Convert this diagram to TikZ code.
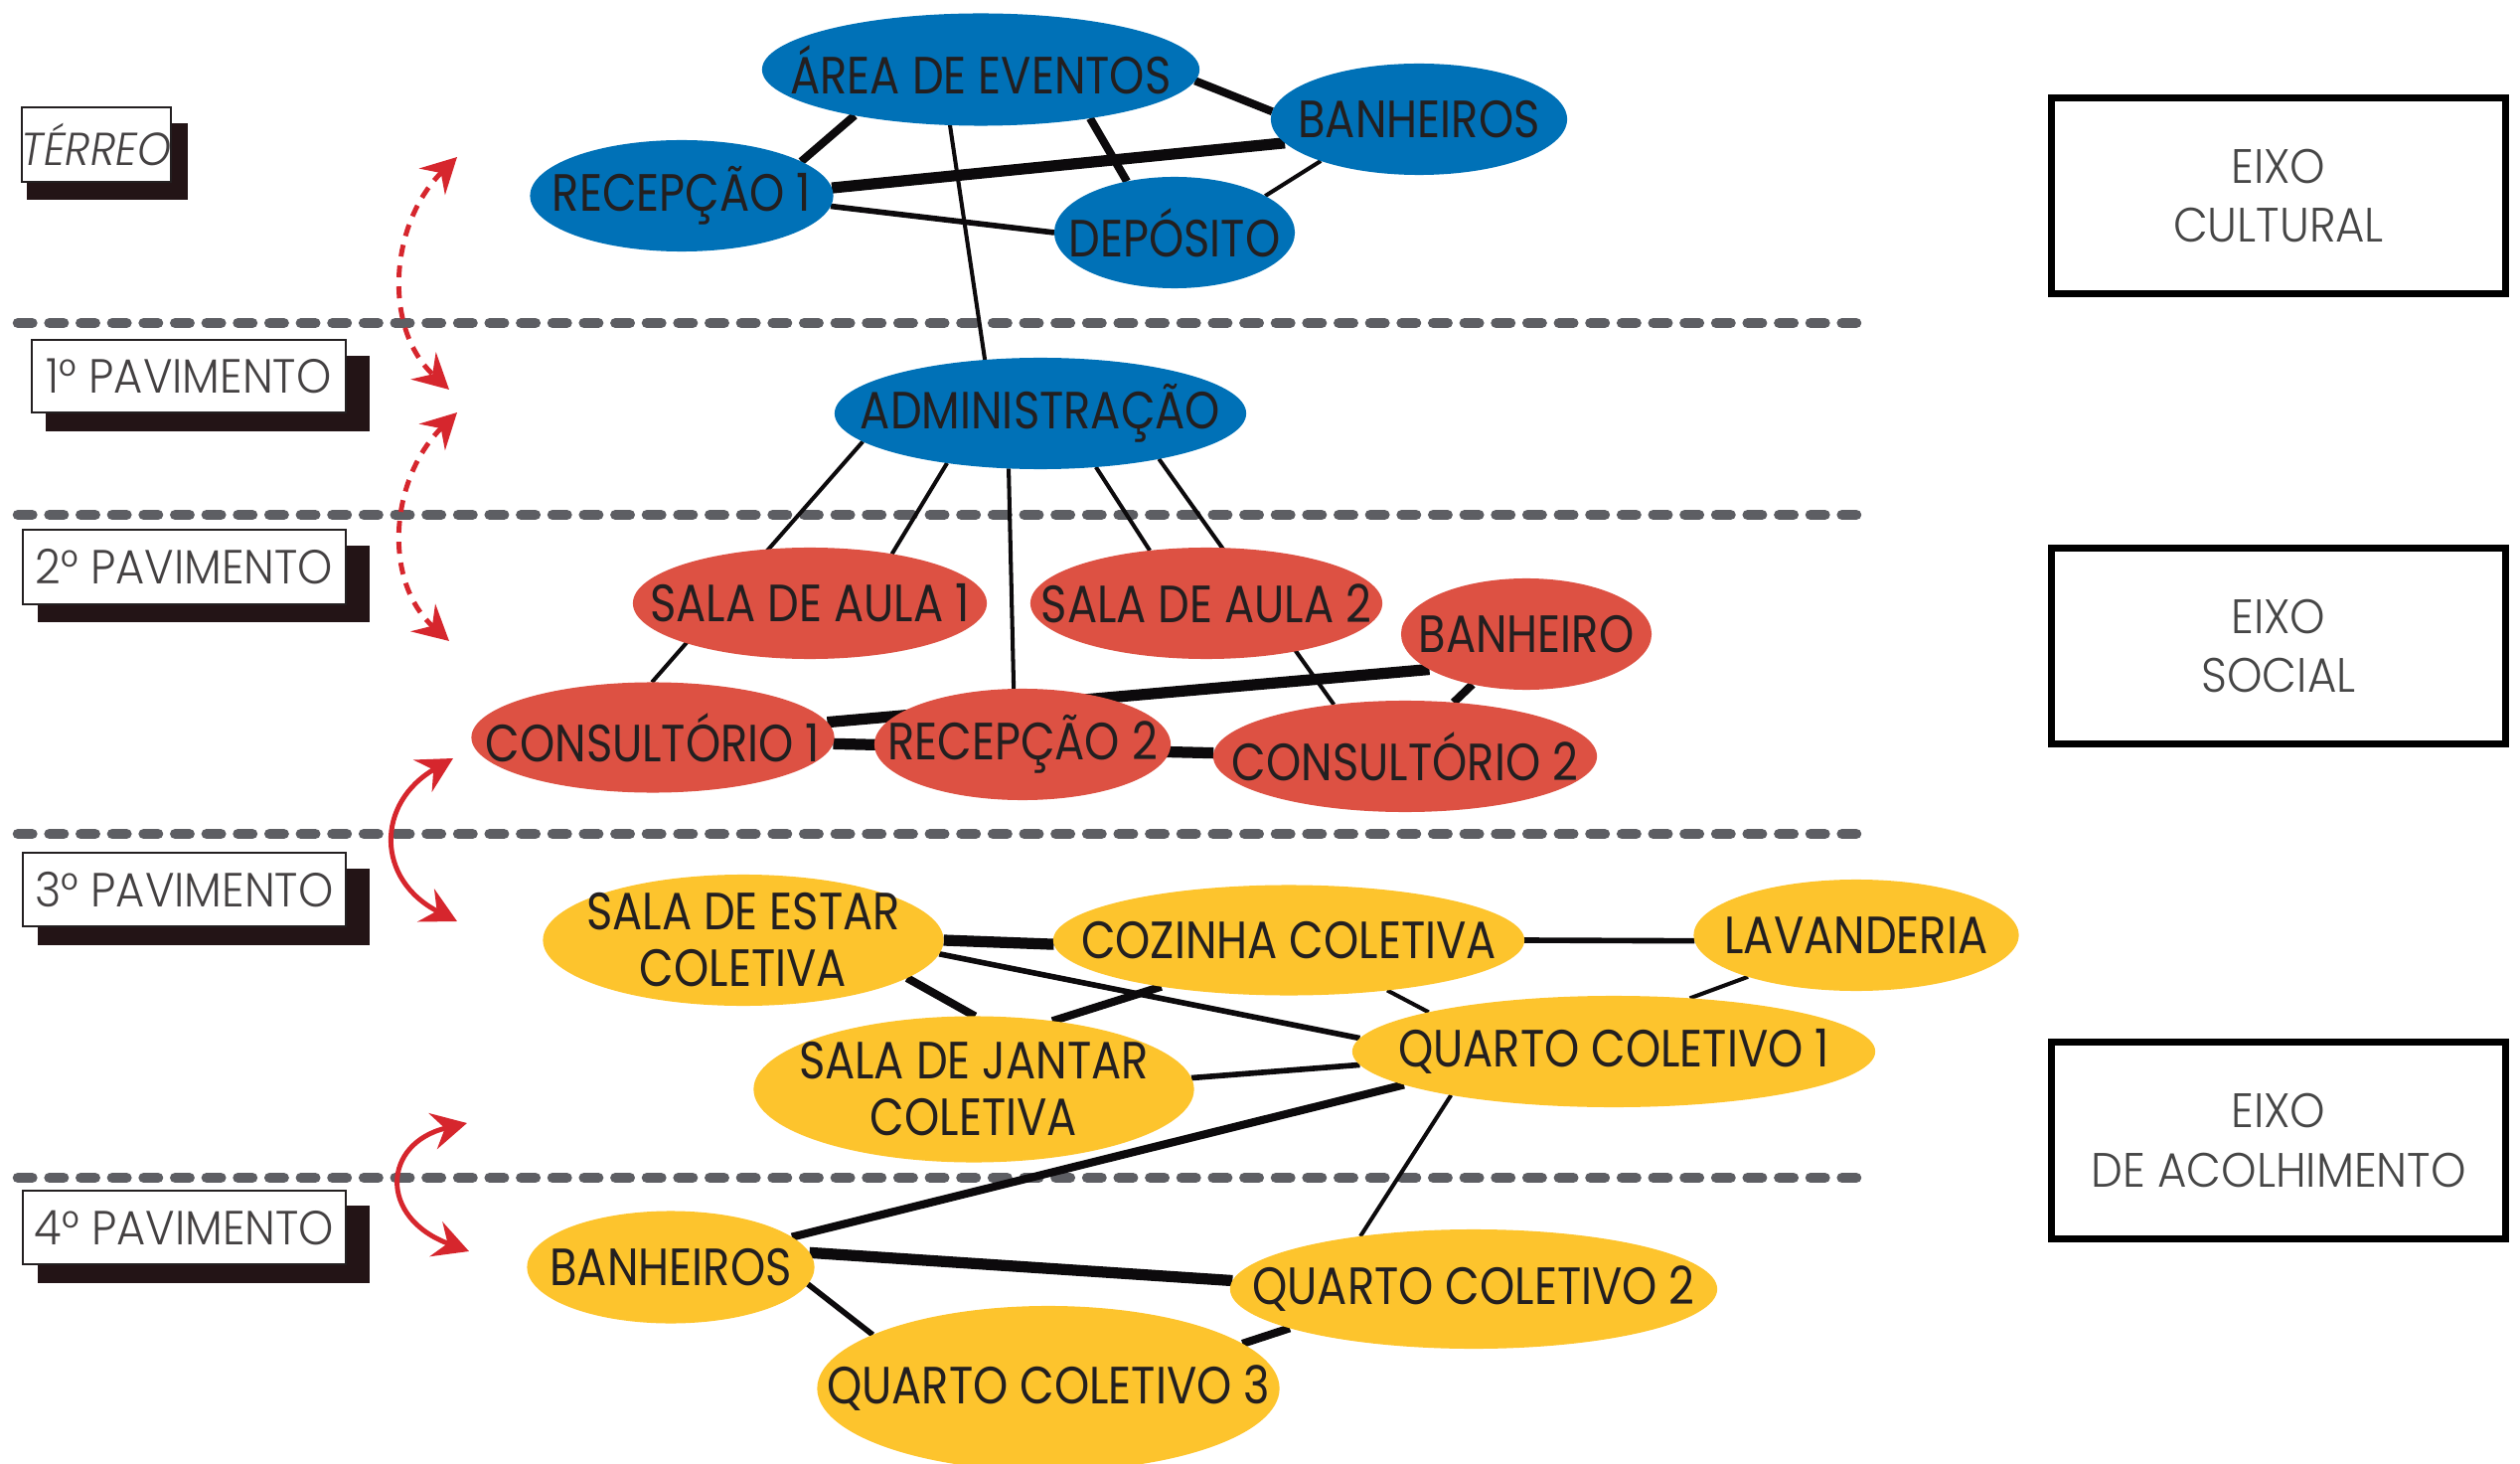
\documentclass[tikz,border=0pt]{standalone}
\usepackage{fontspec}
\usetikzlibrary{shapes.geometric,arrows.meta}
\newfontfamily\roomfont{Poppins}[FakeStretch=0.85]
\newfontfamily\lightfont{Poppins}[UprightFont={* Light},ItalicFont={* Light Italic},FakeStretch=0.93]
\definecolor{cblue}{RGB}{0,113,183}
\definecolor{cred}{RGB}{221,81,67}
\definecolor{cyel}{RGB}{253,196,45}
\definecolor{ctxt}{RGB}{35,31,32}
\definecolor{cgray}{RGB}{93,94,99}
\definecolor{carrow}{RGB}{214,38,45}
\definecolor{cshadow}{RGB}{35,20,22}
\definecolor{cedge}{RGB}{12,10,12}
\definecolor{ceixo}{RGB}{70,70,70}
\pgfdeclarelayer{floors}
\pgfdeclarelayer{edges}
\pgfsetlayers{floors,edges,main}
\tikzset{
  room/.style={ellipse, draw=none, inner sep=0pt, outer sep=0pt},
  rtext/.style={font=\roomfont\fontsize{15}{16.2}\selectfont, text=ctxt, align=center, inner sep=0pt},
  e1/.style={draw=cedge, line width=1.15pt},
  e2/.style={draw=cedge, line width=1.6pt},
  e3/.style={draw=cedge, line width=2.3pt},
  e4/.style={draw=cedge, line width=3.2pt},
  floorline/.style={draw=cgray, line width=3pt, line cap=round, dash pattern=on 4.1pt off 4.9pt},
  flbox/.style={draw=ctxt, line width=0.45pt, fill=white, inner sep=0pt, font=\lightfont\fontsize{13.7}{15}\selectfont, text=ctxt!85},
  eixo/.style={draw=black, line width=2pt, fill=white, inner sep=0pt, minimum width=4.57cm, minimum height=1.97cm, align=center, font=\lightfont\fontsize{13.8}{16.8}\selectfont, text=ceixo},
  redarr/.style={draw=carrow, line width=1.4pt, {Stealth[length=10pt,width=10.5pt,inset=3.5pt]}-{Stealth[length=10pt,width=10.5pt,inset=3.5pt]}},
}
\begin{document}
\begin{tikzpicture}[x=0.01cm, y=-0.01cm]
\useasboundingbox (0,0) rectangle (2536,1473);

% floor lines
\begin{pgfonlayer}{floors}
\coordinate (f1a) at (18,325); \coordinate (f1b) at (1868,325);
\coordinate (f2a) at (18,518); \coordinate (f2b) at (1868,518);
\coordinate (f3a) at (18,839); \coordinate (f3b) at (1868,839);
\coordinate (f4a) at (18,1185); \coordinate (f4b) at (1868,1185);
\draw[floorline] (f1a) -- (f1b);
\draw[floorline] (f2a) -- (f2b);
\draw[floorline] (f3a) -- (f3b);
\draw[floorline] (f4a) -- (f4b);
\end{pgfonlayer}

% floor labels
\fill[cshadow] (27,124) rectangle (189,201);
\node[flbox, minimum width=1.50cm, minimum height=0.75cm] (terreo) at (97,145.5) {\itshape\fontsize{13.2}{15}\selectfont TÉRREO};
\fill[cshadow] (46,358) rectangle (372,434);
\node[flbox, minimum width=3.16cm, minimum height=0.73cm] (pav1) at (190,378.5) {1° PAVIMENTO};
\fill[cshadow] (38,549) rectangle (372,626);
\node[flbox, minimum width=3.25cm, minimum height=0.75cm] (pav2) at (185.5,570.5) {2° PAVIMENTO};
\fill[cshadow] (38,874) rectangle (372,951);
\node[flbox, minimum width=3.25cm, minimum height=0.74cm] (pav3) at (185.5,895) {3° PAVIMENTO};
\fill[cshadow] (38,1213) rectangle (372,1291);
\node[flbox, minimum width=3.25cm, minimum height=0.74cm] (pav4) at (185.5,1235) {4° PAVIMENTO};

% eixo boxes
\node[eixo] (ex1) at (2293,197) {EIXO\\CULTURAL};
\node[eixo] (ex2) at (2293,650) {EIXO\\SOCIAL};
\node[eixo] (ex3) at (2293,1147.5) {EIXO\\DE ACOLHIMENTO};

% blue rooms
\node[room, fill=cblue, minimum width=4.40cm, minimum height=1.13cm, label={[rtext]center:ÁREA DE EVENTOS}] (area) at (987,70) {};
\node[room, fill=cblue, minimum width=2.98cm, minimum height=1.12cm, label={[rtext]center:BANHEIROS}] (banh1) at (1428,120) {};
\node[room, fill=cblue, minimum width=3.05cm, minimum height=1.12cm, label={[rtext]center:RECEPÇÃO 1}] (rec1) at (686,197) {};
\node[room, fill=cblue, minimum width=2.42cm, minimum height=1.12cm, label={[rtext]center:DEPÓSITO}] (dep) at (1182,234) {};
\node[room, fill=cblue, minimum width=4.14cm, minimum height=1.12cm, label={[rtext]center:ADMINISTRAÇÃO}] (admin) at (1047,416) {};

% red rooms
\node[room, fill=cred, minimum width=3.56cm, minimum height=1.12cm, label={[rtext]center:SALA DE AULA 1}] (sala1) at (815,607) {};
\node[room, fill=cred, minimum width=3.54cm, minimum height=1.12cm, label={[rtext]center:SALA DE AULA 2}] (sala2) at (1214,607) {};
\node[room, fill=cred, minimum width=2.52cm, minimum height=1.12cm, label={[rtext]center:BANHEIRO}] (banh) at (1536,638) {};
\node[room, fill=cred, minimum width=3.65cm, minimum height=1.11cm, label={[rtext]center:CONSULTÓRIO 1}] (cons1) at (657,742) {};
\node[room, fill=cred, minimum width=2.98cm, minimum height=1.12cm, label={[rtext]center:RECEPÇÃO 2}] (rec2) at (1029,749) {};
\node[room, fill=cred, minimum width=3.86cm, minimum height=1.12cm, label={[rtext]center:CONSULTÓRIO 2}] (cons2) at (1414,761) {};

% yellow rooms
\node[room, fill=cyel, minimum width=4.03cm, minimum height=1.32cm, label={[rtext]center:{SALA DE ESTAR\\COLETIVA}}] (estar) at (748,946) {};
\node[room, fill=cyel, minimum width=4.74cm, minimum height=1.11cm, label={[rtext]center:COZINHA COLETIVA}] (coz) at (1297,946) {};
\node[room, fill=cyel, minimum width=3.27cm, minimum height=1.12cm, label={[rtext]center:LAVANDERIA}] (lav) at (1868,941) {};
\node[room, fill=cyel, minimum width=5.26cm, minimum height=1.12cm, label={[rtext]center:QUARTO COLETIVO 1}] (qc1) at (1624,1058) {};
\node[room, fill=cyel, minimum width=4.43cm, minimum height=1.47cm, label={[rtext]center:{SALA DE JANTAR\\COLETIVA}}] (jantar) at (980,1096) {};
\node[room, fill=cyel, minimum width=2.89cm, minimum height=1.13cm, label={[rtext]center:BANHEIROS}] (banh2) at (675,1275) {};
\node[room, fill=cyel, minimum width=4.90cm, minimum height=1.20cm, label={[rtext]center:QUARTO COLETIVO 2}] (qc2) at (1483,1297) {};
\node[room, fill=cyel, minimum width=4.65cm, minimum height=1.66cm, label={[rtext]center:QUARTO COLETIVO 3}] (qc3) at (1055,1397) {};

% edges
\begin{pgfonlayer}{edges}
\draw[e3] (area.200) -- (rec1.16);
\draw[e3] (area.357) -- (banh1.177);
\draw[e4] (rec1.3) -- (banh1.190);
\draw[e3] (area.336) -- (dep.133);
\draw[e2] (rec1.356) -- (dep.180);
\draw[e1] (banh1.203) -- (dep.22);
\draw[e1] (area.241) -- (admin.136);
\draw[e1] (admin.189) -- (cons1.91);
\draw[e1] (admin.208) -- (sala1.31);
\draw[e1] (admin.240) -- (rec2.99);
\draw[e1] (admin.316) -- (sala2.137);
\draw[e1] (admin.339) -- (cons2.144);
\draw[e4] (cons1.5) -- (banh.200);
\draw[e4] (cons1.358) -- (cons2.179);
\draw[e3] (banh.223) -- (cons2.48);
\draw[e4] (estar.0) -- (coz.181);
\draw[e2] (coz.0) -- (lav.182);
\draw[e2] (estar.356) -- (qc1.177);
\draw[e3] (estar.347) -- (jantar.89);
\draw[e3] (coz.200) -- (jantar.41);
\draw[e1] (coz.333) -- (qc1.168);
\draw[e1] (lav.201) -- (qc1.35);
\draw[e2] (jantar.3) -- (qc1.183);
\draw[e3] (qc1.189) -- (banh2.14);
\draw[e1] (qc1.195) -- (qc2.155);
\draw[e4] (banh2.6) -- (qc2.178);
\draw[e2] (banh2.353) -- (qc3.163);
\draw[e3] (qc2.192) -- (qc3.13);
\end{pgfonlayer}

% red arrows
\coordinate (a1s) at (460,158); \coordinate (a1e) at (452,392);
\coordinate (a2s) at (460,415); \coordinate (a2e) at (452,645);
\coordinate (a3s) at (456,763); \coordinate (a3e) at (460,927);
\coordinate (a4s) at (470,1130); \coordinate (a4e) at (472,1259);
\draw[redarr, dash pattern=on 3.4pt off 2.6pt] (a1s) .. controls (392,225) and (385,330) .. (a1e);
\draw[redarr, dash pattern=on 3.4pt off 2.6pt] (a2s) .. controls (392,482) and (385,585) .. (a2e);
\draw[redarr] (a3s) .. controls (378,808) and (378,885) .. (a3e);
\draw[redarr] (a4s) .. controls (385,1150) and (380,1225) .. (a4e);
\end{tikzpicture}
\end{document}
